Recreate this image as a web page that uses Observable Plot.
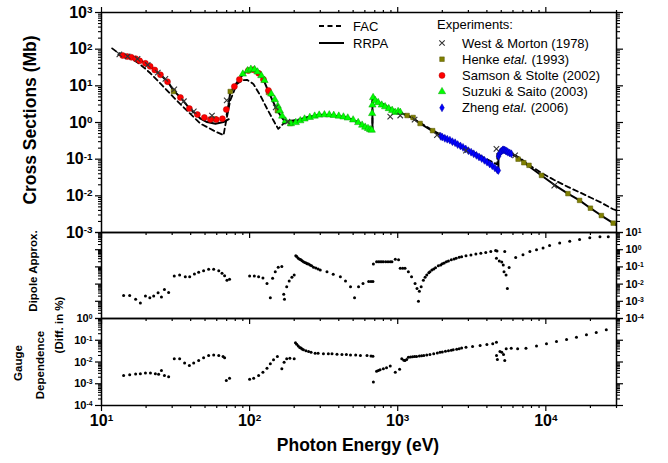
<!DOCTYPE html>
<html><head><meta charset="utf-8">
<script src="https://cdn.jsdelivr.net/npm/d3@7"></script>
<script src="https://cdn.jsdelivr.net/npm/@observablehq/plot@0.6"></script>
<style>
html,body{margin:0;padding:0;background:#fff;}
#wrap{position:relative;width:668px;height:463px;overflow:hidden;font-family:"Liberation Sans",Arial,sans-serif;}
#wrap svg{position:absolute;left:0;overflow:visible;}
</style></head><body><div id="wrap"></div>
<script>
// ---------------- data (photon energy in eV, cross section in Mb) ----------------
const rrpaLow = [[13,70],[14,66],[15.5,62],[17,56],[18.5,49],[20,40],[22.4,29],[25,20],[28,13],[30.6,7.5],[34,4.9],[39,2.5],[44.4,1.55],[46.6,1.27],[51.6,1.03],[58.8,0.93],[66.7,1.03],[72.3,1.23]];
const rrpaHigh = [[70,1.6],[72,3.0],[74,6.5],[79,9.8],[85,15],[91,21.5],[98,26.5],[104,28.5],[110,26],[115,21.5],[124,15],[134,7],[144,3.7],[154,2.1],[169,1.2],[188,0.95],[213,1.12],[250,1.4],[300,1.62],[367,1.55],[455,1.35],[541,1.0],[603,0.76],[651,0.65],[675,0.6],[675,4.6],[690,4.4],[738,3.5],[822,2.7],[917,2.15],[1006,1.95],[1157,1.55],[1270,1.3],[1416,0.94],[1700,0.6],[2030,0.40],[2630,0.22],[3220,0.14],[3980,0.083],[4786,0.049],[4786,0.13],[4900,0.16],[5107,0.17],[5300,0.178],[5500,0.165],[5750,0.147],[6680,0.103],[7600,0.066],[9350,0.036],[11400,0.020],[14100,0.0115],[16900,0.0075],[20000,0.0046],[23700,0.0029],[28500,0.0018],[30000,0.0016]];
const fac = [[11.8,105],[12.8,82],[14,70],[16,55],[18,40],[20,28],[21.4,22],[25.7,10.3],[30.6,4.9],[37.8,2.1],[46.6,0.93],[57.2,0.6],[66.7,0.45],[68.5,0.83],[74,4.0],[82,11.3],[90,14.2],[96,14.6],[106,11.3],[118,5.5],[131,2.4],[145,1.13],[156,0.67],[169,0.93],[188,1.1],[213,1.2],[250,1.42],[300,1.6],[367,1.55],[455,1.37],[541,1.02],[651,0.68],[675,0.62],[675,4.2],[720,3.9],[822,3.0],[917,2.3],[1006,2.05],[1157,1.6],[1416,0.98],[1700,0.63],[2030,0.43],[2630,0.245],[3220,0.16],[3980,0.10],[4700,0.072],[4700,0.15],[5000,0.175],[5300,0.18],[5750,0.15],[6680,0.108],[7600,0.072],[9350,0.042],[11400,0.027],[14100,0.0175],[16900,0.0125],[20000,0.009],[23700,0.0065],[28500,0.0043],[30000,0.004]];

const westMorton = [[13.2,72],[15,64],[17.5,54],[20.5,37],[24,23],[27,15.5],[31,8],[36,3.8],[42,2.0],[55.7,1.55],[70,4.0],[150,2.6],[180,1.05],[890,1.45],[1040,1.55],[1300,1.2],[1840,0.45],[2890,0.17],[4640,0.19],[6200,0.127],[11400,0.019]];
const henke = [[30.6,7.0],[58,1.25],[74,7.0],[134,6.6],[154,2.1],[188,0.94],[1157,1.55],[1270,1.37],[1416,0.94],[1720,0.6],[6500,0.10],[7100,0.08],[7700,0.068],[9350,0.036],[14100,0.0115],[16900,0.0075],[20000,0.0046],[23700,0.0029],[28500,0.0018]];
const samson = [[13.9,67],[14.9,63],[15.9,60],[17.0,55],[18.1,48],[19.8,41],[21.3,34],[22.9,27],[25,20],[27.9,13],[34.1,4.8],[39.2,2.4],[44.4,1.65],[49.5,1.37],[54.3,1.21],[59.6,1.2],[65.5,1.27],[69.6,2.26],[78.9,9.6],[85.3,14.9],[98,26],[106,27.5],[115,22],[124,15],[134,7.5]];
const suzuki = [[90,21],[97,26],[102,28.5],[108,28],[113,24],[120,19],[126,14],[140,6],[148,4.2],[155,2.8],[160,2.1],[166,1.5],[175,1.1],[190,0.93],[205,1.0],[220,1.12],[235,1.25],[255,1.38],[275,1.5],[295,1.6],[320,1.63],[345,1.62],[370,1.57],[400,1.5],[430,1.42],[460,1.33],[500,1.18],[541,1.0],[575,0.85],[603,0.75],[630,0.69],[651,0.64],[668,0.62],[672,1.76],[675,3.0],[682,4.8],[705,4.0],[738,3.5],[780,3.0],[822,2.7],[870,2.4],[917,2.15],[960,1.9],[1006,2.0],[1040,1.9]];
const zheng = [[1950,0.42],[2000,0.40],[2080,0.37],[2160,0.35],[2250,0.33],[2340,0.30],[2440,0.28],[2540,0.25],[2650,0.23],[2760,0.21],[2880,0.19],[3000,0.17],[3130,0.155],[3260,0.14],[3400,0.127],[3540,0.115],[3690,0.104],[3850,0.093],[4010,0.083],[4180,0.074],[4350,0.066],[4530,0.058],[4700,0.051],[4780,0.049],[4800,0.12],[4850,0.14],[4920,0.155],[5000,0.165],[5100,0.175],[5150,0.18],[5250,0.178],[5350,0.17],[5450,0.165],[5550,0.155],[5700,0.148],[5850,0.14]];

// relative differences (%)
const dipole = [[14.1,0.0022],[15.5,0.0022],[17.0,0.0013],[18.3,0.0008],[19.8,0.0020],[21.2,0.0016],[22.5,0.0020],[24.1,0.0031],[25.4,0.0018],[26.6,0.0049],[28.4,0.0032],[31.0,0.030],[33.7,0.034],[36.8,0.027],[39.4,0.027],[42.4,0.039],[45.3,0.049],[48.9,0.060],[52.9,0.072],[57.2,0.072],[61.9,0.060],[65.1,0.043],[67.8,0.031],[70.3,0.017],[73.2,0.019],
[100,0.030],[107.6,0.030],[115,0.027],[123,0.023],[131,0.011],[138,0.0016],[143,0.022],[149,0.052],[156,0.095],[165,0.105],[170,0.0026],[172,0.0013],[178,0.0069],[185,0.015],[193,0.025],[200,0.034],
[205,0.45],[208,0.40],[213,0.32],[218,0.28],[222,0.26],[226,0.23],[231,0.20],[236,0.18],[241,0.17],[245,0.155],[250,0.145],[256,0.13],[262,0.115],[270,0.095],[280,0.085],[290,0.075],[300,0.066],[333,0.052],[367,0.037],[410,0.027],[444,0.015],[480,0.0069],[511,0.0016],[544,0.0069],[583,0.011],[637,0.014],[660,0.014],[680,0.014],
[685,0.145],[720,0.20],[740,0.20],[760,0.20],[780,0.20],[800,0.20],[830,0.20],[860,0.20],[890,0.20],[914,0.20],[963,0.28],[1013,0.26],[1040,0.083],[1080,0.083],[1120,0.083],[1180,0.052],[1240,0.027],[1310,0.011],[1350,0.0056],[1380,0.0010],[1400,0.0039],[1440,0.0069],[1490,0.017],[1530,0.025],[1570,0.034],[1620,0.045],[1650,0.052],[1700,0.066],[1750,0.075],[1800,0.088],[1880,0.115],[1950,0.13],[2000,0.15],[2060,0.17],[2130,0.20],[2200,0.22],[2300,0.26],[2400,0.29],[2480,0.32],[2600,0.36],[2700,0.39],[2890,0.45],[3120,0.50],[3370,0.56],[3640,0.62],[3930,0.69],[4250,0.78],[4580,0.91],[4680,0.83],[4640,0.32],[4850,0.22],[5040,0.19],[5160,0.13],[5220,0.052],[5280,0.79],[5390,0.034],[5500,0.0056],[5650,0.091],
[6260,0.35],[7010,0.51],[7800,0.79],[8650,1.0],[9580,1.26],[10600,1.74],[12400,2.45],[14500,3.1],[16900,3.9],[19800,4.9],[23200,5.6],[26400,5.6]];
const gauge = [[14.1,0.0024],[15.5,0.0026],[17.0,0.0028],[18.3,0.0029],[19.8,0.0031],[21.4,0.0031],[23.1,0.0029],[24.3,0.0027],[25.4,0.0041],[26.6,0.0024],[28.4,0.0021],[31.0,0.014],[33.7,0.014],[36.4,0.0089],[39.2,0.0069],[41.9,0.0091],[45.3,0.0117],[48.9,0.0155],[52.9,0.020],[57.2,0.021],[61.9,0.020],[66.2,0.018],[67.8,0.0155],[69.6,0.0014],[73.2,0.0018],
[100,0.0016],[106.5,0.0018],[115,0.0024],[123,0.0034],[131,0.0052],[138,0.0083],[145,0.0126],[154,0.018],[165,0.0049],[171,0.0098],[178,0.014],[187,0.0148],[200,0.014],
[204,0.076],[208,0.066],[213,0.054],[218,0.047],[222,0.044],[226,0.040],[231,0.037],[240,0.033],[250,0.030],[260,0.028],[277,0.025],[290,0.025],[315,0.024],[340,0.024],[360,0.024],[389,0.023],[420,0.022],[450,0.022],[480,0.021],[520,0.021],[560,0.020],[620,0.020],[660,0.019],[680,0.0186],
[685,0.0012],[720,0.0038],[740,0.0041],[760,0.0044],[800,0.0049],[840,0.0055],[890,0.0065],[963,0.0034],[1030,0.0046],[1065,0.014],[1100,0.012],[1120,0.0117],[1150,0.013],[1180,0.0166],[1220,0.017],[1260,0.0175],[1300,0.0178],[1340,0.018],[1400,0.019],[1450,0.0195],[1500,0.020],[1570,0.021],[1650,0.022],[1750,0.024],[1850,0.026],[1930,0.028],[2000,0.029],[2100,0.031],[2200,0.033],[2300,0.035],[2370,0.037],[2500,0.039],[2600,0.041],[2700,0.044],[2890,0.048],[3200,0.052],[3600,0.058],[4000,0.063],[4380,0.069],[4640,0.081],[4645,0.020],[4710,0.0129],[4900,0.030],[5040,0.028],[5180,0.022],[5280,0.0117],[5400,0.041],[5840,0.043],[6450,0.041],[7340,0.043],[8650,0.054],[10100,0.069],[11800,0.087],[13800,0.107],[16100,0.138],[18800,0.178],[21900,0.23],[25600,0.30]];

// tick values
const xMajor = [10, 100, 1000, 10000];
const yMajorTop = [1e-3, 1e-2, 1e-1, 1, 10, 100, 1000];
const yMajorMid = [1e-4, 1e-3, 1e-2, 1e-1, 1, 10];
const yMajorBot = [1e-4, 1e-3, 1e-2, 1e-1, 1];

// ---------------- helpers ----------------
const FONT = '"Liberation Sans", Arial, sans-serif';
const W = 668, ML = 101, MR = 52;
const minorsOf = (majors, max) => {
  const out = [];
  for (const d of majors) for (let k = 2; k <= 9; k++) if (d * k <= max * 1.0001) out.push(d * k);
  return out;
};
const xMinor = minorsOf(xMajor, 30000);
const fmtSup = d => "10^" + Math.round(Math.log10(d));
const noLab = () => "";
const X = d => d[0], Y = d => d[1];

function xAxes(anchor, labels) {
  return [
    Plot.axisX(xMinor, {anchor, tickSize: 3, tickFormat: noLab, label: null, strokeWidth: 1.2}),
    Plot.axisX(xMajor, {anchor, tickSize: 6, tickFormat: labels ? fmtSup : noLab, label: null, strokeWidth: 1.2,
      fontSize: 16, fontWeight: "bold", tickPadding: 3})
  ];
}
function yAxes(anchor, majors, labels, fs) {
  return [
    Plot.axisY(minorsOf(majors.slice(0, -1), majors[majors.length - 1]), {anchor, tickSize: 3, tickFormat: noLab, label: null, strokeWidth: 1.1}),
    Plot.axisY(majors, {anchor, tickSize: 6, tickFormat: labels ? fmtSup : noLab, label: null, strokeWidth: 1.2,
      fontSize: fs, fontWeight: "bold", tickPadding: 3})
  ];
}
function supify(svg) {
  const ns = "http://www.w3.org/2000/svg";
  svg.querySelectorAll("text").forEach(t => {
    const m = /^10\^(-?\d+)$/.exec(t.textContent);
    if (!m) return;
    t.textContent = "";
    const a = document.createElementNS(ns, "tspan"); a.textContent = "10"; t.appendChild(a);
    const b = document.createElementNS(ns, "tspan"); b.textContent = m[1];
    b.setAttribute("dy", "-0.45em"); b.setAttribute("font-size", "62%"); t.appendChild(b);
  });
}
function place(svg, top) { svg.style.top = top + "px"; supify(svg); document.getElementById("wrap").appendChild(svg); }

const baseStyle = {background: "transparent", overflow: "visible", fontFamily: FONT, color: "black"};
const xScale = {type: "log", domain: [10, 30000], axis: null};

// marker styles
const MK = {
  henke: {symbol: "square", r: 2.6, fill: "#808000", stroke: "#555500", strokeWidth: 0.5},
  samson: {symbol: "circle", r: 3.0, fill: "#ff0000", stroke: "#b00000", strokeWidth: 0.5},
  suzuki: {symbol: "triangle", r: 2.7, fill: "#00ff00", stroke: "#00a000", strokeWidth: 0.5},
  zheng: {symbol: "diamond", r: 2.4, fill: "#0000ff", stroke: "#0000a0", strokeWidth: 0.5},
  west: {symbol: "times", r: 2.6, fill: "none", stroke: "#333", strokeWidth: 1.1}
};

// ---------------- top panel ----------------
const topPlot = Plot.plot({
  width: W, height: 240, marginLeft: ML, marginRight: MR, marginTop: 12, marginBottom: 8,
  style: baseStyle, x: xScale,
  y: {type: "log", domain: [1e-3, 1e3], axis: null},
  marks: [
    ...xAxes("top", false), ...xAxes("bottom", false),
    ...yAxes("left", yMajorTop, true, 16), ...yAxes("right", yMajorTop, false, 16),
    Plot.line(fac, {x: X, y: Y, stroke: "black", strokeWidth: 1.8, strokeDasharray: "5,3.5", clip: true}),
    Plot.line(rrpaLow, {x: X, y: Y, stroke: "black", strokeWidth: 2, clip: true}),
    Plot.line(rrpaHigh, {x: X, y: Y, stroke: "black", strokeWidth: 2, clip: true}),
    Plot.dot(henke, {x: X, y: Y, ...MK.henke}),
    Plot.dot(samson, {x: X, y: Y, ...MK.samson}),
    Plot.dot(suzuki, {x: X, y: Y, ...MK.suzuki}),
    Plot.dot(zheng, {x: X, y: Y, ...MK.zheng}),
    Plot.dot(westMorton, {x: X, y: Y, symbol: "times", r: 2.6, stroke: "#333", strokeWidth: 1.1}),
    Plot.frame({stroke: "black", strokeWidth: 1.5})
  ]
});
place(topPlot, 0);

// ---------------- middle panel (dipole approximation) ----------------
const midPlot = Plot.plot({
  width: W, height: 102, marginLeft: ML, marginRight: MR, marginTop: 8, marginBottom: 8,
  style: baseStyle, x: xScale,
  y: {type: "log", domain: [1e-4, 10], axis: null},
  marks: [
    ...xAxes("bottom", false),
    ...yAxes("left", yMajorMid, false, 11), ...yAxes("right", yMajorMid, true, 11),
    Plot.dot(dipole, {x: X, y: Y, r: 1.5, fill: "black", clip: true}),
    Plot.frame({stroke: "black", strokeWidth: 1.5})
  ]
});
place(midPlot, 224);

// ---------------- bottom panel (gauge dependence) ----------------
const botPlot = Plot.plot({
  width: W, height: 153, marginLeft: ML, marginRight: MR, marginTop: 8, marginBottom: 58,
  style: baseStyle, x: xScale,
  y: {type: "log", domain: [1e-4, 1], axis: null},
  marks: [
    ...xAxes("bottom", true),
    ...yAxes("left", yMajorBot, true, 11), ...yAxes("right", yMajorBot, false, 11),
    Plot.dot(gauge, {x: X, y: Y, r: 1.5, fill: "black", clip: true}),
    Plot.frame({stroke: "black", strokeWidth: 1.5})
  ]
});
place(botPlot, 310);

// ---------------- titles & legend overlay ----------------
const ov = d3.create("svg").attr("width", W).attr("height", 463)
  .style("top", "0px").attr("font-family", FONT).style("pointer-events", "none");
const vtext = (x, y, s, size) => ov.append("text").attr("transform", `translate(${x},${y}) rotate(-90)`)
  .attr("text-anchor", "middle").attr("dy", "0.35em").attr("font-size", size).attr("font-weight", "bold").text(s);
vtext(30, 120, "Cross Sections (Mb)", 17.5);
vtext(33, 271, "Dipole Approx.", 11.5);
vtext(59, 325, "(Diff. in %)", 11.5);
vtext(18, 363, "Gauge", 11.5);
vtext(40, 365, "Dependence", 11.5);
ov.append("text").attr("x", 358).attr("y", 451).attr("text-anchor", "middle")
  .attr("font-size", 17.5).attr("font-weight", "bold").text("Photon Energy (eV)");

const symMap = {square: d3.symbolSquare, circle: d3.symbolCircle, triangle: d3.symbolTriangle, diamond: d3.symbolDiamond, times: d3.symbolTimes};
const lg = ov.append("g").attr("font-size", 13);
lg.append("line").attr("x1", 319).attr("x2", 344).attr("y1", 26).attr("y2", 26)
  .attr("stroke", "black").attr("stroke-width", 2).attr("stroke-dasharray", "5,3.5");
lg.append("text").attr("x", 353).attr("y", 30.5).text("FAC");
lg.append("line").attr("x1", 319).attr("x2", 344).attr("y1", 43).attr("y2", 43)
  .attr("stroke", "black").attr("stroke-width", 2);
lg.append("text").attr("x", 353).attr("y", 47.5).text("RRPA");
lg.append("text").attr("x", 437).attr("y", 29).text("Experiments:");
const legendRows = [
  {mk: MK.west, parts: [["West & Morton (1978)", false]]},
  {mk: MK.henke, parts: [["Henke ", false], ["etal.", true], [" (1993)", false]]},
  {mk: MK.samson, parts: [["Samson & Stolte (2002)", false]]},
  {mk: MK.suzuki, parts: [["Suzuki & Saito (2003)", false]]},
  {mk: MK.zheng, parts: [["Zheng ", false], ["etal.", true], [" (2006)", false]]}
];
legendRows.forEach((row, i) => {
  const cy = 43 + i * 16.2, m = row.mk;
  lg.append("path").attr("transform", `translate(442,${cy})`)
    .attr("d", d3.symbol(symMap[m.symbol], Math.PI * m.r * m.r)())
    .attr("fill", m.fill).attr("stroke", m.stroke).attr("stroke-width", m.strokeWidth);
  const t = lg.append("text").attr("x", 462).attr("y", cy + 4.5);
  row.parts.forEach(([s, it]) => t.append("tspan").attr("font-style", it ? "italic" : "normal").text(s));
});
document.getElementById("wrap").appendChild(ov.node());
</script></body></html>
